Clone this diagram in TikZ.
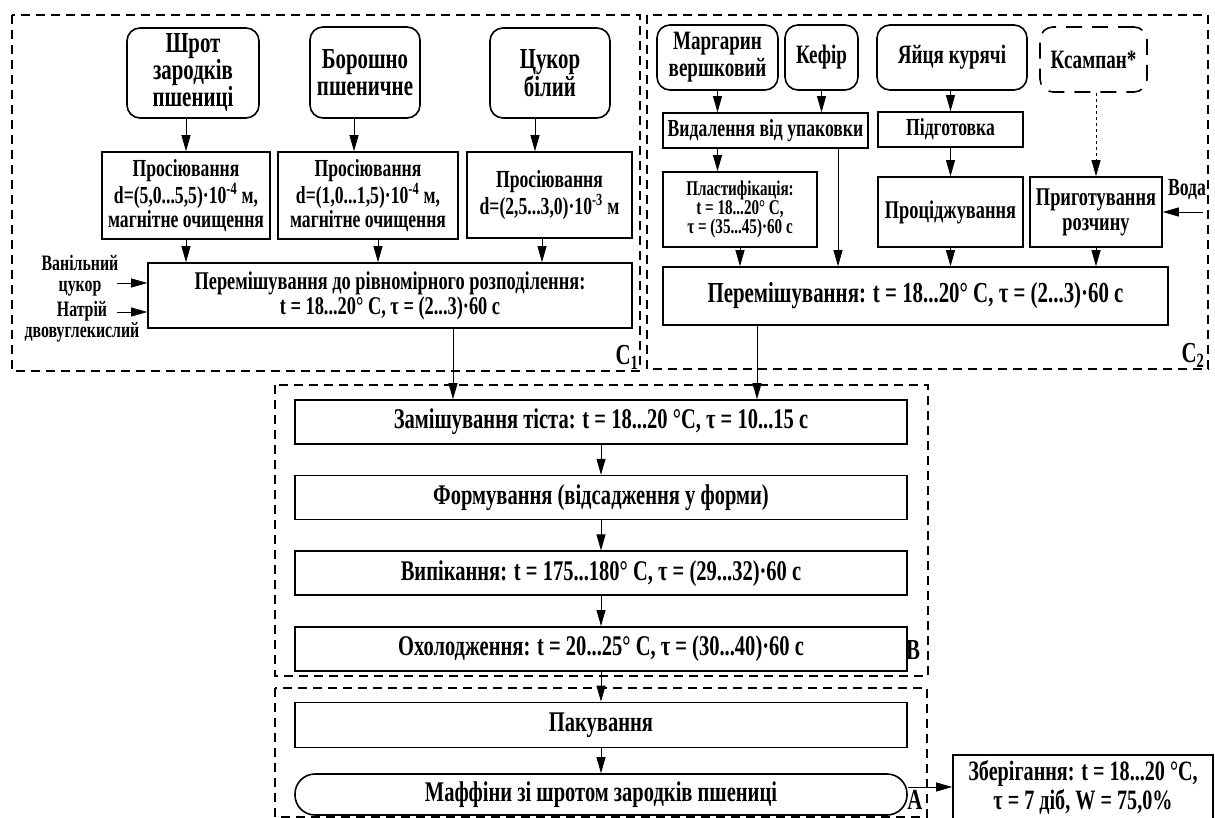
\documentclass[tikz,border=0pt]{standalone}
\usepackage{fontspec}
\setmainfont{Liberation Serif}[FakeStretch=0.72]
\usetikzlibrary{arrows.meta,positioning}
\newcommand{\txtsize}[2]{\fontsize{#1}{#2}\selectfont}
\tikzset{
	frame/.style={draw, dash pattern=on 9pt off 6pt, line width=1.5pt},
	ingr/.style={
		draw, line width=1.6pt, rounded corners=13pt,
		align=center, inner sep=2pt,
		font=\bfseries\txtsize{29}{27}
	},
	proc/.style={
		draw, line width=1.6pt, align=center, inner sep=2pt,
		font=\bfseries\txtsize{24.5}{24}
	},
	side/.style={align=center, inner sep=0pt, font=\bfseries\txtsize{22}{21}},
	tagtext/.style={inner sep=0pt, font=\bfseries\txtsize{29}{29}},
	arr/.style={-{Triangle[length=16pt,width=9pt]}, line width=0.8pt}
}
\begin{document}
\begin{tikzpicture}[x=1pt, y=-1pt]
				\useasboundingbox (0,0) rectangle (1215,818);
				% frames
				\draw[frame] (12,15) rectangle (640,371);
				\draw[frame] (647,15) rectangle (1208,369);
				\draw[frame] (275,385) rectangle (928,676);
				\draw[frame] (275,688) rectangle (927,817);
				% C1
				\node[ingr, minimum width=132pt, minimum height=90pt] (shrot) at (193,73) {Шрот\\зародків\\пшениці};
				\node[ingr, minimum width=110pt, minimum height=91pt] (boro) at (365,72.5) {Борошно\\пшеничне};
				\node[ingr, minimum width=120pt, minimum height=90pt] (cukor) at (550,73) {Цукор\\білий};
				\node[proc, minimum width=168pt, minimum height=87pt] (sieve1) at (186,195.5) {Просіювання\\d=(5,0...5,5)·10\textsuperscript{-4} м,\\магнітне очищення};
				\node[proc, minimum width=180pt, minimum height=87pt] (sieve2) at (368,195.5) {Просіювання\\d=(1,0...1,5)·10\textsuperscript{-4} м,\\магнітне очищення};
				\node[proc, minimum width=165pt, minimum height=86pt] (sieve3) at (549.5,195) {Просіювання\\d=(2,5...3,0)·10\textsuperscript{-3} м};
				\node[proc, minimum width=484pt, minimum height=65pt, font=\bfseries\txtsize{25.5}{25}] (mix1) at (390,295.5) {Перемішування до рівномірного розподілення:\\t = 18...20° C, τ = (2...3)·60 с};
				\node[side] (van) at (80,276) {Ванільний\\цукор};
				\node[side] (natr) at (82,322) {Натрій\\двовуглекислий};
				\coordinate (vanin) at (117,283);
				\coordinate (natrin) at (117,312);
				\node[tagtext] (c1) at (627,357) {C\textsubscript{1}};
				\draw[arr] (shrot.south -| sieve1) -- (sieve1);
				\draw[arr] ([xshift=-11pt]boro.south) -- ([xshift=-11pt]boro.south |- sieve2.north);
				\draw[arr] ([xshift=-15pt]cukor.south) -- ([xshift=-15pt]cukor.south |- sieve3.north);
				\draw[arr] (sieve1) -- (sieve1 |- mix1.north);
				\draw[arr] ([xshift=10pt]sieve2.south) -- ([xshift=10pt]sieve2.south |- mix1.north);
				\draw[arr] ([xshift=-7.5pt]sieve3.south) -- ([xshift=-7.5pt]sieve3.south |- mix1.north);
				\draw[arr] (vanin) -- (vanin -| mix1.west);
				\draw[arr] (natrin) -- (natrin -| mix1.west);
				% C2
				\node[ingr, font=\bfseries\txtsize{26.5}{27}, minimum width=121pt, minimum height=65pt] (marg) at (717.5,57.5) {Маргарин\\вершковий};
				\node[ingr, font=\bfseries\txtsize{26.5}{27}, minimum width=73pt, minimum height=65pt] (kefir) at (821.5,57.5) {Кефір};
				\node[ingr, font=\bfseries\txtsize{26.5}{27}, minimum width=150pt, minimum height=65pt] (eggs) at (952,57.5) {Яйця курячі};
				\node[ingr, font=\bfseries\txtsize{26.5}{27}, dash pattern=on 16pt off 10pt, minimum width=107pt, minimum height=65pt] (ksampan) at (1093.5,59.5) {Ксампан*};
				\node[proc, minimum width=205pt, minimum height=35pt] (vyd) at (765.5,130.5) {Видалення від упаковки};
				\node[proc, minimum width=145pt, minimum height=35pt] (pidg) at (950.5,129.5) {Підготовка};
				\node[proc, minimum width=154pt, minimum height=75pt, font=\bfseries\txtsize{21}{19}] (plast) at (740,209.5) {Пластифікація:\\t = 18...20° C,\\τ = (35...45)·60 с};
				\node[proc, minimum width=145pt, minimum height=70pt, font=\bfseries\txtsize{25.5}{25}] (procid) at (950.5,212) {Проціджування};
				\node[proc, minimum width=132pt, minimum height=70pt, font=\bfseries\txtsize{25.5}{25}] (prig) at (1096,212) {Приготування\\розчину};
				\node[proc, minimum width=505pt, minimum height=58pt, font=\bfseries\txtsize{29}{27}] (mix2) at (915.5,296) {Перемішування: t = 18...20° C, τ = (2...3)·60 с};
				\node[side, font=\bfseries\txtsize{24.5}{22}] (voda) at (1187,190) {Вода};
				\coordinate (vodain) at (1203,212);
				\node[tagtext] (c2) at (1193,355) {C\textsubscript{2}};
				\draw[arr] (marg) -- (marg |- vyd.north);
				\draw[arr] (kefir) -- (kefir |- vyd.north);
				\draw[arr] (vyd.south -| marg) -- (plast.north -| marg);
				\draw[arr] ([xshift=72.5pt]vyd.south) -- ([xshift=72.5pt]vyd.south |- mix2.north);
				\draw[arr] (plast) -- (plast |- mix2.north);
				\draw[arr] (eggs.south -| pidg) -- (pidg);
				\draw[arr] (pidg) -- (procid);
				\draw[arr] (procid) -- (procid |- mix2.north);
				\draw[arr, dashed] (ksampan.south -| prig) -- (prig);
				\draw[arr] (prig) -- (prig |- mix2.north);
				\draw[arr] (vodain) -- (prig.east);
				% B
				\node[proc, minimum width=612pt, minimum height=44pt, font=\bfseries\txtsize{28.5}{27}] (zam) at (601,422) {Замішування тіста: t = 18...20 °C, τ = 10...15 с};
				\node[proc, minimum width=612pt, minimum height=44pt, font=\bfseries\txtsize{28.5}{27}, below=30pt of zam] (form) {Формування (відсадження у форми)};
				\node[proc, minimum width=612pt, minimum height=44pt, font=\bfseries\txtsize{28.5}{27}, below=30pt of form] (vyp) {Випікання: t = 175...180° C, τ = (29...32)·60 с};
				\node[proc, minimum width=612pt, minimum height=44pt, font=\bfseries\txtsize{28.5}{27}, below=30pt of vyp] (oxol) {Охолодження: t = 20...25° C, τ = (30...40)·60 с};
				\node[tagtext] (bl) at (913,650) {B};
				\draw[arr] ([xshift=63pt]mix1.south) -- ([xshift=63pt]mix1.south |- zam.north);
				\draw[arr] ([xshift=-158.5pt]mix2.south) -- ([xshift=-158.5pt]mix2.south |- zam.north);
				\draw[arr] (zam) -- (form);
				\draw[arr] (form) -- (vyp);
				\draw[arr] (vyp) -- (oxol);
				% A
				\node[proc, minimum width=612pt, minimum height=45pt, font=\bfseries\txtsize{28.5}{27}, below=30pt of oxol] (pak) {Пакування};
				\node[proc, rounded corners=20pt, minimum width=612pt, minimum height=41pt, font=\bfseries\txtsize{28.5}{27}, below=25pt of pak] (maf) {Маффіни зі шротом зародків пшениці};
				\node[proc, minimum width=260pt, minimum height=64pt, font=\bfseries\txtsize{28}{29}] (zber) at (1083,787) {Зберігання: t = 18...20 °C,\\τ = 7 діб, W = 75,0\%};
				\node[tagtext] (al) at (915,800) {A};
				\draw[arr] (oxol) -- (pak);
				\draw[arr] (pak) -- (maf);
				\draw[arr] (maf.east |- zber) -- (zber.west);
			\end{tikzpicture}
\end{document}
